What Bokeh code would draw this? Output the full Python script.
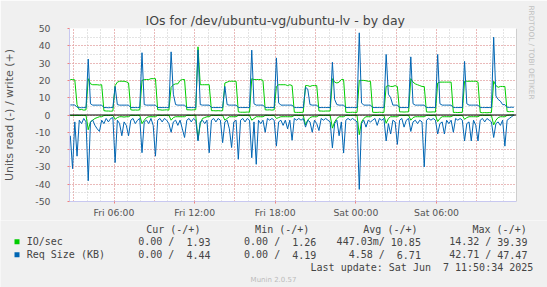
from bokeh.plotting import figure
from bokeh.layouts import column
from bokeh.models import (ColumnDataSource, FixedTicker, Range1d, Span, Label,
                          BoxAnnotation, Title)
from bokeh.embed import file_html
from bokeh.resources import INLINE

# ---------------- data (10-minute samples, hours since Fri 00:00) ----------------
START_H = 2.75          # Fri 02:45
STEP_H = 1.0 / 6.0      # 10 minutes

io_write = [
    20.5, 20.5, 20.3, 6, 3, 3.2, 2.8, 3,
    21, 18, 17.5, 17.5, 17.5, 17.3, 17.5, 2.5, 2.3, 2.3, 2.2, 2.3,
    17, 19, 19.5, 19.5, 19.5, 19.2, 18.5, 3, 2.8, 2.9, 2.8, 3,
    20, 20.5, 20.5, 20.5, 21, 21, 21, 3, 3, 2.8, 2.9, 3, 2.8,
    16, 17.5, 18, 18, 20, 20.5, 20.5, 3, 3, 2.9, 3, 3.1,
    39.4, 17.5, 17.5, 17.5, 17.5, 17.5, 2.5, 2.5, 2.4, 2.5, 2.4, 2.5,
    18.5, 19, 19.5, 19.5, 19.5, 19.5, 1.8, 1.6, 1.6, 1.6, 1.7, 1.6,
    21, 20.5, 20.5, 20.5, 20.5, 20, 3, 2.9, 3, 2.8, 3,
    16.5, 17.5, 17.5, 17.5, 17.5, 17, 17.5, 17, 1.6, 1.5, 1.5, 1.5, 1.6,
    17, 17, 16.5, 17, 17, 17, 2.3, 2.3, 2.2, 2.3, 2.3, 2.3,
    21, 19, 18.5, 19, 20.5, 20.5, 1.6, 1.5, 1.5, 1.6, 1.5, 1.5,
    20, 20, 20, 19.8, 19.5, 19.5, 1.6, 1.5, 1.5, 1.6, 1.5, 1.5,
    16.5, 17, 16.5, 16.5, 17, 16.5, 1.8, 1.8, 1.7, 1.8, 1.8,
    21, 19, 18, 17.5, 17, 16.5, 16.5, 1.8, 1.7, 1.7, 1.8, 1.7,
    18.5, 19, 19, 19, 19, 19, 19, 1.5, 1.5, 1.4, 1.5, 1.5,
    19.5, 19.5, 19.5, 19.5, 19.5, 19.5, 19, 1.5, 1.3, 1.4, 1.3, 1.4, 1.4,
    19.5, 17, 16, 16.5, 16.5, 16.5, 2, 1.9, 2, 1.93,
]

io_read = [
    0.3, 0.3, 0.3, 0.2, 0.3, 0.2, 0.3, 0.2,
    8.5, 4, 3, 2, 1.5, 1, 1, 0.3, 0.2, 0.3, 0.2, 0.2,
    2.5, 1.5, 1, 1, 1.2, 1, 1, 0.2, 0.2, 0.3, 0.2, 0.2,
    5, 3, 1.5, 1, 1, 1, 1, 0.2, 0.2, 0.3, 0.2, 0.2, 0.2,
    3, 1.5, 1, 1, 1, 1, 1, 0.2, 0.2, 0.3, 0.2, 0.2,
    14.3, 5, 2, 1.5, 1, 1, 0.2, 0.2, 0.3, 0.2, 0.2, 0.2,
    3, 2, 1, 1, 1, 1, 0.2, 0.2, 0.3, 0.2, 0.2, 0.2,
    3, 2, 1, 1, 1, 1, 0.2, 0.2, 0.3, 0.2, 0.2,
    2, 1.5, 1, 1, 1, 1, 1, 1, 0.2, 0.2, 0.3, 0.2, 0.2,
    5.7, 3, 1.5, 1, 1, 1, 0.2, 0.2, 0.3, 0.2, 0.2, 0.2,
    7.6, 4, 2, 1, 1, 1, 0.2, 0.2, 0.3, 0.2, 0.2, 0.2,
    11.4, 4, 2, 1, 1, 1, 0.2, 0.2, 0.3, 0.2, 0.2, 0.2,
    4.8, 2, 1, 1, 1, 1, 0.2, 0.2, 0.3, 0.2, 0.2,
    3, 1.5, 1, 1, 1, 1, 1, 0.2, 0.2, 0.3, 0.2, 0.2,
    3.8, 2, 1, 1, 1, 1, 1, 0.2, 0.2, 0.3, 0.2, 0.2,
    2.5, 1.5, 1, 1, 1, 1, 1, 0.2, 0.2, 0.3, 0.2, 0.2, 0.2,
    5.7, 3, 1.5, 1, 1, 1, 0.2, 0.1, 0, 0,
]

req_write = [
    5.8, 5.8, 5.8, 4.5, 4.3, 4.2, 4.3, 4.2,
    32.3, 6.5, 5.7, 5.7, 5.7, 5.7, 5.7, 4.3, 4.3, 4.2, 4.3, 4.3,
    16.5, 6, 5.7, 5.7, 5.7, 5.7, 5.7, 4.3, 4.3, 4.3, 4.3, 4.3,
    36, 6, 5.7, 5.7, 5.7, 5.7, 5.7, 4.3, 4.3, 4.3, 4.3, 4.3, 4.3,
    36.5, 12, 6, 5.7, 5.7, 5.7, 5.7, 4.3, 4.3, 4.3, 4.3, 4.3,
    37.6, 6, 5.7, 5.7, 5.7, 5.7, 4.3, 4.3, 4.3, 4.3, 4.3, 4.3,
    16.5, 6, 5.7, 5.7, 5.7, 5.7, 4.3, 4.3, 4.3, 4.3, 4.3, 4.3,
    37.5, 6.5, 5.7, 5.7, 5.7, 5.7, 4.3, 4.3, 4.3, 4.3, 4.3,
    33, 7, 5.7, 5.7, 5.7, 5.7, 5.7, 5.7, 4.3, 4.3, 4.3, 4.3, 4.3,
    16, 15, 6, 5.7, 5.7, 5.7, 4.3, 4.3, 4.3, 4.3, 4.3, 4.3,
    30.5, 9, 6, 5.7, 5.7, 5.7, 4.3, 4.3, 4.3, 4.3, 4.3, 4.3,
    47.5, 7, 5.7, 5.7, 5.7, 5.7, 4.3, 4.3, 4.3, 4.3, 4.3, 4.3,
    35, 12, 10, 5.7, 5.7, 5.7, 4.3, 4.3, 4.3, 4.3, 4.3,
    33.6, 6.5, 5.7, 5.7, 5.7, 5.7, 5.7, 4.3, 4.3, 4.3, 4.3, 4.3,
    35, 6.5, 5.7, 5.7, 5.7, 5.7, 5.7, 4.3, 4.3, 4.3, 4.3, 4.3,
    31, 6.5, 5.7, 5.7, 5.7, 5.7, 5.7, 4.3, 4.3, 4.3, 4.3, 4.3, 4.3,
    45, 11, 9, 8, 6, 6, 4.5, 4.4, 4.5, 4.44,
]

req_read = [
    12, 31, 4, 23.8, 3, 5, 2, 4,
    38, 4, 3, 6, 8, 9.5, 3, 5, 2, 4, 2, 1.5,
    27.5, 3, 5, 12, 4, 6, 12, 3, 2, 5, 3, 2,
    21.8, 4, 3, 5, 2, 6, 23.8, 3, 2, 4, 2, 3, 5,
    10, 4, 3, 6, 3, 8, 13, 3, 2, 4, 2, 3,
    15, 4, 3, 5, 3, 21.8, 3, 2, 4, 2, 3, 16,
    4, 3, 8, 18.8, 4, 3, 25.6, 3, 2, 4, 2, 3,
    24.7, 4, 28.5, 3, 5, 3, 10, 2, 3, 2, 3,
    18, 4, 3, 6, 3, 8, 3, 14.6, 2, 3, 2, 3, 2,
    7, 3, 4, 10, 3, 5, 9, 2, 3, 2, 3, 4,
    19, 5, 3, 12, 4, 22, 3, 2, 3, 2, 3, 4,
    43, 5, 3, 7, 3, 4, 3, 2, 6, 2, 3, 2,
    15, 5, 11, 3, 4, 17, 3, 2, 7, 3, 2,
    9.5, 4, 3, 5, 3, 4, 30, 3, 2, 3, 2, 3,
    11, 5, 4, 11, 3, 5, 3, 10, 2, 3, 2, 3,
    15, 5, 4, 15, 3, 6, 15, 3, 2, 4, 2, 3, 4,
    13, 5, 4, 6, 3, 18, 3, 2, 1, 0,
]

tick_hours = [6, 12, 18, 24, 30]
tick_labels = ["Fri 06:00", "Fri 12:00", "Fri 18:00", "Sat 00:00", "Sat 06:00"]
grid_hours = [3, 6, 9, 12, 15, 18, 21, 24, 27, 30, 33]
minor_hours = list(range(3, 36))
y_ticks = [-50, -40, -30, -20, -10, 0, 10, 20, 30, 40, 50]
y_tick_labels = ["-50", "-40", "-30", "-20", "-10", "0", "10", "20", "30", "40", "50"]
y_minor = list(range(-50, 51, 5))

title_text = "IOs for /dev/ubuntu-vg/ubuntu-lv - by day"
y_label = "Units read (-) / write (+)"
legend_headers = ["Cur (-/+)", "Min (-/+)", "Avg (-/+)", "Max (-/+)"]
series_names = ["IO/sec", "Req Size (KB)"]
io_stats = [("0.00 /", "1.93"), ("0.00 /", "1.26"), ("447.03m/", "10.85"), ("14.32 /", "39.39")]
req_stats = [("0.00 /", "4.44"), ("0.00 /", "4.19"), ("4.58 /", "6.71"), ("42.71 /", "47.47")]
last_update = ("Last update: Sat Jun", "7 11:50:34 2025")
footer = "Munin 2.0.57"
side_text = "RRDTOOL / TOBI OETIKER"

GREEN = "#00CC00"
BLUE = "#0066B3"
BG = "#F0F0F0"

# ---------------- chart figure ----------------
W = 547
H1 = 220                             # chart part (title, plot, x tick labels)
H2 = 287 - H1                        # legend part
FL, FR, FT, FB = 67, 516, 28, 204    # frame edges in image pixels
PX_PER_H = 13.5
x0 = 6 - (111.7 - FL) / PX_PER_H
x1 = x0 + (FR - FL) / PX_PER_H

p = figure(width=W, height=H1, output_backend="svg", toolbar_location=None,
           x_range=Range1d(x0, x1), y_range=Range1d(-50, 50),
           min_border_left=FL, min_border_right=W - FR,
           min_border_top=FT, min_border_bottom=H1 - FB)
p.border_fill_color = BG
p.background_fill_color = "#FFFFFF"
p.outline_line_color = None

# title (above) and side credit (right)
p.title = Title(text=title_text, align="left", offset=76, standoff=2,
                text_font="DejaVu Sans", text_font_size="12.5px",
                text_font_style="normal", text_color="#444444",
                vertical_align="bottom")
p.add_layout(Title(text=side_text, align="left", offset=-23, standoff=18,
                   text_font="DejaVu Sans", text_font_size="7.3px",
                   text_font_style="normal", text_color="#C0C0C0",
                   vertical_align="middle"), "right")

# axes
p.xaxis.ticker = FixedTicker(ticks=tick_hours)
p.xaxis.major_label_overrides = {h: l for h, l in zip(tick_hours, tick_labels)}
p.yaxis.ticker = FixedTicker(ticks=y_ticks, minor_ticks=y_minor)
p.yaxis.major_label_overrides = {v: l for v, l in zip(y_ticks, y_tick_labels)}
for ax in (p.xaxis[0], p.yaxis[0]):
    ax.axis_line_color = "#C8C8F0"
    ax.major_label_text_font = "DejaVu Sans"
    ax.major_label_text_font_size = "9.3px"
    ax.major_label_text_color = "#555555"
    ax.major_tick_line_color = "#F08080"
    ax.minor_tick_line_color = None
    ax.major_tick_in = 0
    ax.major_tick_out = 2
p.xaxis.major_label_standoff = 3
p.yaxis.major_label_standoff = 15
p.yaxis.axis_label = y_label
p.yaxis.axis_label_text_font = "DejaVu Sans"
p.yaxis.axis_label_text_font_size = "11px"
p.yaxis.axis_label_text_font_style = "normal"
p.yaxis.axis_label_text_color = "#555555"
p.yaxis.axis_label_standoff = 16

# grids
p.xgrid.ticker = FixedTicker(ticks=grid_hours, minor_ticks=minor_hours)
for g in (p.xgrid[0], p.ygrid[0]):
    g.grid_line_color = "#F09090"
    g.grid_line_dash = "1 2"
    g.grid_line_width = 1
    g.minor_grid_line_color = "#C8C8C8"
    g.minor_grid_line_dash = "1 2"

# series
def times(vals):
    return [START_H + i * STEP_H for i in range(len(vals))]

src_iow = ColumnDataSource(dict(t=times(io_write), v=io_write))
src_ior = ColumnDataSource(dict(t=times(io_read), v=[-v for v in io_read]))
src_rqw = ColumnDataSource(dict(t=times(req_write), v=req_write))
src_rqr = ColumnDataSource(dict(t=times(req_read), v=[-v for v in req_read]))

p.line("t", "v", source=src_ior, line_color=GREEN, line_width=1)
p.line("t", "v", source=src_iow, line_color=GREEN, line_width=1)
p.line("t", "v", source=src_rqr, line_color=BLUE, line_width=1)
p.line("t", "v", source=src_rqw, line_color=BLUE, line_width=1)

p.add_layout(Span(location=0, dimension="width", line_color="black", line_width=1))
p.add_layout(Span(location=x1, dimension="height", line_color="#A0A0A0", line_width=1))

# ---------------- legend figure (frame = whole canvas) ----------------
q = figure(frame_width=W, frame_height=H2, output_backend="svg", toolbar_location=None,
           x_range=Range1d(0, W), y_range=Range1d(0, H2),
           x_axis_location=None, y_axis_location=None,
           min_border_left=0, min_border_right=0, min_border_top=0, min_border_bottom=0)
for fig in (p, q):
    try:
        fig.frame_align = False
    except Exception:
        pass
q.grid.visible = False
q.outline_line_color = None
q.border_fill_color = BG
q.background_fill_color = BG

Y0 = H1  # image y where the legend figure starts

def lbl(text, ix, iy, size="10px", font="DejaVu Sans Mono", color="#444444",
        align="left"):
    q.add_layout(Label(x=ix, y=H2 - (iy - Y0), x_units="screen", y_units="screen",
                       text=text, text_font=font, text_font_size=size,
                       text_color=color, text_align=align, text_baseline="middle"))

CH = 6.02
header_ends = [199.9, 308.8, 417.0, 526.2]
value_ends = [210.0, 315.8, 420.4, 526.9]
for h, xe in zip(legend_headers, header_ends):
    lbl(h, xe, 228.8, align="right")
for row_y, name, stats, col in ((241.4, series_names[0], io_stats, GREEN),
                                (254.3, series_names[1], req_stats, BLUE)):
    q.add_layout(BoxAnnotation(left=14, right=19,
                               top=H2 - (row_y - 2.6 - Y0), bottom=H2 - (row_y + 2.4 - Y0),
                               left_units="screen", right_units="screen",
                               top_units="screen", bottom_units="screen",
                               fill_color=col, fill_alpha=1, line_color=None))
    lbl(name, 26.2, row_y)
    for (a, b), xe in zip(stats, value_ends):
        lbl(a, xe - 6 * CH, row_y, align="right")
        lbl(b, xe, row_y, align="right")
lbl(last_update[0], 532.8 - 17 * CH, 266.9, align="right")
lbl(last_update[1], 532.8, 266.9, align="right")
lbl(footer, 273, 279.8, size="7px", font="DejaVu Sans", color="#BBBBBB", align="center")

layout = column(p, q, spacing=0)
open("out.html", "w").write(file_html(layout, INLINE))
